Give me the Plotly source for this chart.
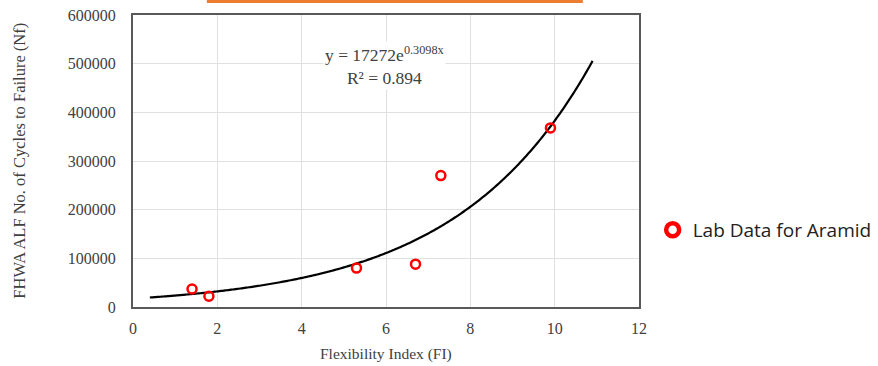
import numpy as np
import plotly.graph_objects as go

# Data
fi_values = [1.4, 1.8, 5.3, 6.7, 7.3, 9.9]
nf_values = [37000, 22000, 80000, 88000, 270000, 368000]
trend_a = 17272
trend_b = 0.3098
trend_x_range = [0.4, 10.9]
r_squared = 0.894
x_ticks = [0, 2, 4, 6, 8, 10, 12]
y_ticks = [0, 100000, 200000, 300000, 400000, 500000, 600000]

tx = np.linspace(trend_x_range[0], trend_x_range[1], 300)
ty = trend_a * np.exp(trend_b * tx)

serif = "Liberation Serif"
txt = "#404040"

fig = go.Figure()
fig.add_trace(go.Scatter(x=tx, y=ty, mode="lines",
                         line=dict(color="black", width=2.2, simplify=False),
                         showlegend=False, hoverinfo="skip"))
fig.add_trace(go.Scatter(x=fi_values, y=nf_values, mode="markers", showlegend=False,
                         marker=dict(symbol="circle-open", size=9, color="#FF0000",
                                     line=dict(width=2.5, color="#FF0000"))))
fig.add_trace(go.Scatter(x=[None], y=[None], mode="markers", name="Lab Data for Aramid",
                         marker=dict(symbol="circle", size=13, color="white",
                                     line=dict(width=4.5, color="#FF0000"))))

fig.add_annotation(x=5.97, y=547000, xref="x", yref="y",
                   text=f"y = {trend_a}e<sup>{trend_b}x</sup><br>R² = {r_squared}",
                   showarrow=False, yanchor="top", bgcolor="white",
                   font=dict(family=serif, size=17.5, color=txt), align="center")

fig.add_shape(type="rect", xref="paper", yref="paper", x0=0.146, x1=0.889, y0=1.041, y1=1.06,
              fillcolor="#ED7D31", line=dict(width=0), layer="above")

fig.add_annotation(x=-0.226, y=0.5, xref="paper", yref="paper", textangle=-90,
                   text="FHWA ALF No. of Cycles to Failure (Nf)", showarrow=False,
                   xanchor="center", yanchor="middle",
                   font=dict(family=serif, size=16.5, color=txt))
fig.add_annotation(x=0.5, y=-0.161, xref="paper", yref="paper",
                   text="Flexibility Index (FI)", showarrow=False,
                   xanchor="center", yanchor="middle",
                   font=dict(family=serif, size=15.5, color=txt))

fig.update_layout(
    width=878, height=366,
    margin=dict(l=133, r=239, t=15, b=59, autoexpand=False),
    paper_bgcolor="white", plot_bgcolor="white",
    font=dict(family=serif, color=txt),
    legend=dict(x=1.027, y=0.264, xanchor="left", yanchor="middle",
                font=dict(family="Open Sans", size=19, color="#222222"),
                itemwidth=30, tracegroupgap=0),
    xaxis=dict(range=[0, 12], tickvals=x_ticks, showgrid=True, gridcolor="#E0E0E0",
               showline=True, linecolor="#595959", linewidth=2, mirror=True,
               ticks="", ticklabelstandoff=6, automargin=False,
               tickfont=dict(family=serif, size=16, color=txt),
               zeroline=False),
    yaxis=dict(range=[0, 600000], tickvals=y_ticks, showgrid=True, gridcolor="#E0E0E0",
               showline=True, linecolor="#595959", linewidth=2, mirror=True,
               ticks="", tickformat="d", ticklabelstandoff=12, automargin=False,
               tickfont=dict(family=serif, size=16, color=txt),
               zeroline=False),
)

fig.write_html("out.html", config={"displayModeBar": False},
               post_script="document.body.style.margin='0px';")
